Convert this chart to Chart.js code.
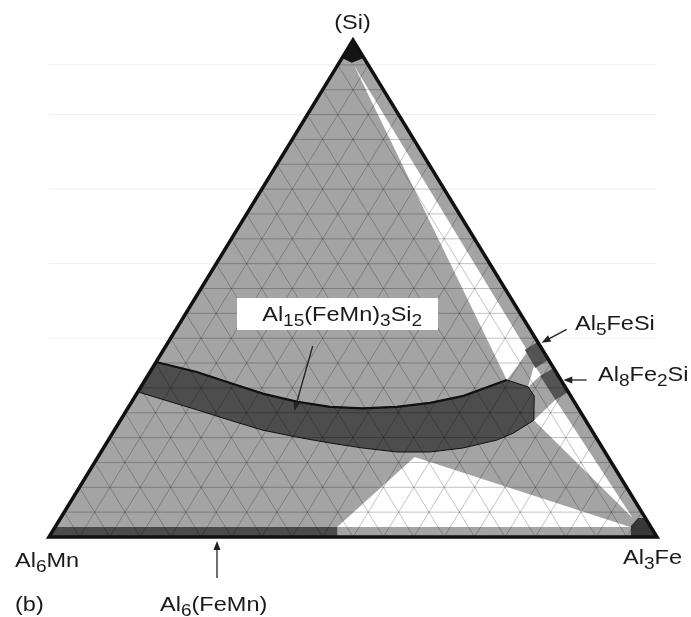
<!DOCTYPE html>
<html>
<head>
<meta charset="utf-8">
<script src="https://cdn.jsdelivr.net/npm/chart.js@4.4.1/dist/chart.umd.min.js"></script>
<style>
  html, body { margin: 0; background: #fff; }
  canvas { display: block; }
</style>
</head>
<body>
<canvas id="ternary" width="691" height="617"></canvas>
<script>
// compositions are [Fe, Si] in % of the triangle, Mn is what is left
const gridLevels = [5, 10, 15, 20, 25, 30, 35, 40, 45, 50, 55, 60, 65, 70, 75, 80, 85, 90, 95];
const scanLevels = [40, 55, 70, 85, 95];

const triangle = [[0, 0], [100, 0], [0, 100]];

// single phase fields
const siCap = [[0, 100], [3.6, 96.4], [2.1, 95.4], [0, 96.4]];
const al6FeMn = [[0, 0], [47.4, 0], [46.4, 2.0], [0, 2.0]];
const al3Fe = [[95.7, 0], [94.6, 2.2], [95.0, 3.8], [96.2, 3.8], [100, 0]];
const al5FeSi = [[60.7, 39.2], [64.3, 35.6], [63.0, 34.0], [59.4, 37.7]];
const al8Fe2Si = [[66.0, 34.0], [70.8, 29.2], [69.5, 27.6], [64.6, 32.4]];
const al15Top = [[0, 35.2], [7.7, 33.2], [14.3, 31.0], [20.9, 28.8], [27.3, 27.2], [33.1, 26.2],
                 [38.6, 25.9], [44.1, 26.2], [49.2, 27.0], [54.0, 28.4], [59.5, 31.6]];
const al15End = [[63.7, 30.2], [65.6, 28.4], [68.0, 23.5]];
const al15Bottom = [[65.9, 20.9], [63.9, 19.5], [59.1, 17.9], [54.1, 17.1], [48.7, 17.1], [42.7, 17.9],
                    [36.8, 18.9], [30.7, 20.1], [24.4, 21.5], [18.0, 23.5], [11.5, 25.6], [0, 29.2]];

// three phase triangles (white)
const triSiAl15Beta = [[2.8, 94.8], [59.5, 31.6], [60.2, 37.2]];
const triAl15BetaAlpha = [[62.5, 34.6], [64.6, 32.6], [63.7, 30.2]];
const triAl15AlphaAl3Fe = [[68.0, 23.5], [69.5, 27.6], [94.1, 3.8]];
const triAl6Al15Al3Fe = [[46.4, 2.0], [52.1, 16.1], [94.6, 2.0]];

const FONT = '"Liberation Sans", Arial, Helvetica, sans-serif';

const toXY = ([fe, si]) => ({ x: (fe + si / 2) / 100, y: si / 100 });
const closed = pts => pts.concat([pts[0]]).map(toXY);

function area(pts, color, order) {
  return {
    data: closed(pts), showLine: true, fill: 'shape', backgroundColor: color,
    borderWidth: 0, pointRadius: 0, order: order, clip: false
  };
}

// grid lines parallel to the three sides
const gridPts = [];
gridLevels.forEach(v => {
  [[[0, v], [100 - v, v]], [[v, 0], [v, 100 - v]], [[100 - v, 0], [0, 100 - v]]].forEach(([a, b]) => {
    gridPts.push(toXY(a), toXY(b), { x: toXY(b).x, y: null });
  });
});

const scanPts = [];
scanLevels.forEach(v => {
  scanPts.push({ x: 0, y: v / 100 }, { x: 1, y: v / 100 }, { x: 1, y: null });
});

const al15 = al15Top.concat(al15End, al15Bottom);

const labels = [
  { text: '(Si)', x: 0.4992, y: 1.0382, align: 'center' },
  { text: 'Al{5}FeSi', x: 0.8651, y: 0.4316, align: 'left' },
  { text: 'Al{8}Fe{2}Si', x: 0.9030, y: 0.3280, align: 'left' },
  { text: 'Al{15}(FeMn){3}Si{2}', x: 0.4822, y: 0.4487, align: 'center', box: [0.3092, 0.4809, 0.6398, 0.4165] },
  { text: 'Al{6}Mn', x: -0.0559, y: -0.0443, align: 'left' },
  { text: '(b)', x: -0.0559, y: -0.1328, align: 'left' },
  { text: 'Al{6}(FeMn)', x: 0.1826, y: -0.1328, align: 'left' },
  { text: 'Al{3}Fe', x: 0.9441, y: -0.0396, align: 'left' }
];

const arrows = [
  [0.4337, 0.3843, 0.4035, 0.2535],
  [0.8515, 0.4179, 0.8103, 0.3910],
  [0.8843, 0.3159, 0.8459, 0.3159],
  [0.2763, -0.0825, 0.2763, -0.0080]
];

function drawFormula(ctx, text, px, py, align) {
  // braces mark subscripts
  const parts = text.split(/(\{[^}]*\})/).filter(Boolean)
    .map(p => p[0] === '{' ? { t: p.slice(1, -1), sub: true } : { t: p, sub: false });
  const main = '21px ' + FONT, small = '17px ' + FONT;
  let w = 0;
  parts.forEach(p => {
    ctx.font = p.sub ? small : main;
    p.w = ctx.measureText(p.t).width;
    w += p.w;
  });
  ctx.save();
  ctx.translate(px, py);
  ctx.scale(1.12, 1);
  let cx = align === 'center' ? -w / 2 : 0;
  ctx.textBaseline = 'alphabetic';
  ctx.fillStyle = '#1a1a1a';
  parts.forEach(p => {
    ctx.font = p.sub ? small : main;
    ctx.fillText(p.t, cx, p.sub ? 12.5 : 7.5);
    cx += p.w;
  });
  ctx.restore();
}

const annotations = {
  id: 'annotations',
  afterDraw(chart) {
    const { ctx, scales: { x, y } } = chart;
    ctx.save();
    labels.forEach(l => {
      if (l.box) {
        const [x0, y0, x1, y1] = l.box;
        ctx.fillStyle = '#fff';
        ctx.fillRect(x.getPixelForValue(x0), y.getPixelForValue(y0),
          x.getPixelForValue(x1) - x.getPixelForValue(x0), y.getPixelForValue(y1) - y.getPixelForValue(y0));
      }
      drawFormula(ctx, l.text, x.getPixelForValue(l.x), y.getPixelForValue(l.y), l.align);
    });
    ctx.strokeStyle = '#222';
    ctx.fillStyle = '#222';
    ctx.lineWidth = 1.3;
    arrows.forEach(([ax, ay, bx, by]) => {
      const x0 = x.getPixelForValue(ax), y0 = y.getPixelForValue(ay);
      const x1 = x.getPixelForValue(bx), y1 = y.getPixelForValue(by);
      const ang = Math.atan2(y1 - y0, x1 - x0);
      ctx.beginPath();
      ctx.moveTo(x0, y0);
      ctx.lineTo(x1 - 6 * Math.cos(ang), y1 - 6 * Math.sin(ang));
      ctx.stroke();
      ctx.beginPath();
      ctx.moveTo(x1, y1);
      ctx.lineTo(x1 - 9 * Math.cos(ang) + 3.5 * Math.sin(ang), y1 - 9 * Math.sin(ang) - 3.5 * Math.cos(ang));
      ctx.lineTo(x1 - 9 * Math.cos(ang) - 3.5 * Math.sin(ang), y1 - 9 * Math.sin(ang) + 3.5 * Math.cos(ang));
      ctx.closePath();
      ctx.fill();
    });
    ctx.restore();
  }
};

new Chart(document.getElementById('ternary'), {
  type: 'scatter',
  data: {
    datasets: [
      { data: scanPts, showLine: true, borderColor: '#efefef', borderWidth: 1, pointRadius: 0, order: 30, clip: false },
      area(triangle, '#a4a4a4', 29),
      area(triSiAl15Beta, '#ffffff', 28),
      area(triAl15BetaAlpha, '#ffffff', 28),
      area(triAl15AlphaAl3Fe, '#ffffff', 28),
      area(triAl6Al15Al3Fe, '#ffffff', 28),
      area(siCap, '#141414', 27),
      area(al6FeMn, '#4b4b4b', 27),
      area(al3Fe, '#383838', 27),
      area(al5FeSi, '#545454', 27),
      area(al8Fe2Si, '#545454', 27),
      {
        data: closed(al15), showLine: true, fill: 'shape', backgroundColor: '#4d4d4d',
        borderColor: '#111', borderWidth: 1, pointRadius: 0, order: 26, clip: false
      },
      { data: gridPts, showLine: true, borderColor: 'rgba(0,0,0,0.24)', borderWidth: 1, pointRadius: 0, order: 25, clip: false },
      { data: al15Top.map(toXY), showLine: true, borderColor: '#111', borderWidth: 2.2, pointRadius: 0, order: 24, clip: false },
      {
        data: [[50, 0], [100, 0], [0, 100], [0, 0], [50, 0]].map(toXY), showLine: true,
        borderColor: '#111', borderWidth: 3.5, borderJoinStyle: 'miter', pointRadius: 0, order: 23, clip: false
      }
    ]
  },
  options: {
    responsive: false,
    animation: false,
    events: [],
    layout: { padding: { left: 49, right: 34, top: 40, bottom: 80 } },
    scales: {
      x: { type: 'linear', min: 0, max: 1, display: false },
      y: { type: 'linear', min: 0, max: 1, display: false }
    },
    elements: { line: { tension: 0 } },
    plugins: { legend: { display: false }, tooltip: { enabled: false } }
  },
  plugins: [annotations]
});
</script>
</body>
</html>
